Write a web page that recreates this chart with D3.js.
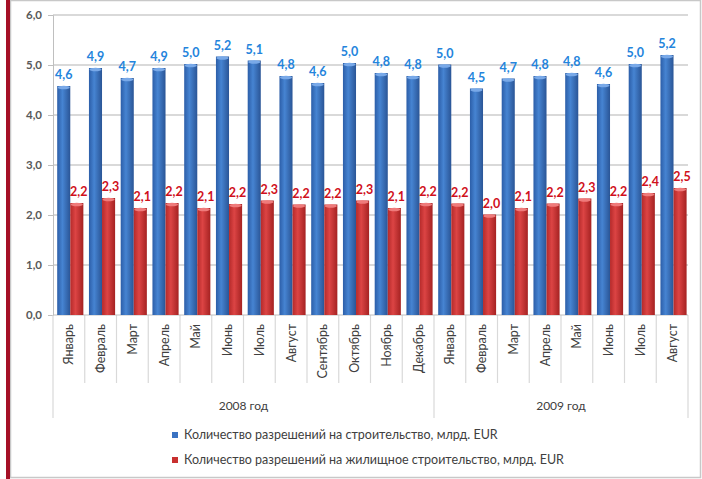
<!DOCTYPE html>
<html>
<head>
<meta charset="utf-8">
<script src="https://cdn.jsdelivr.net/npm/d3@7"></script>
<style>
  body { margin: 0; background: #fff; }
  text { font-family: Lato, "Open Sans", sans-serif; }
</style>
</head>
<body>
<div id="the_chart"></div>
<script>
var months = ["Январь", "Февраль", "Март", "Апрель", "Май", "Июнь", "Июль", "Август",
              "Сентябрь", "Октябрь", "Ноябрь", "Декабрь",
              "Январь", "Февраль", "Март", "Апрель", "Май", "Июнь", "Июль", "Август"];
var years = [{label: "2008 год", start: 0, end: 12}, {label: "2009 год", start: 12, end: 20}];
var permitsTotal = [4.58, 4.94, 4.74, 4.94, 5.02, 5.17, 5.09, 4.78, 4.64, 5.04, 4.84, 4.78,
                    5.01, 4.53, 4.73, 4.78, 4.84, 4.62, 5.02, 5.2];
var permitsHousing = [2.24, 2.34, 2.14, 2.24, 2.14, 2.22, 2.29, 2.21, 2.21, 2.29, 2.14, 2.24,
                      2.23, 2.01, 2.14, 2.23, 2.33, 2.24, 2.44, 2.54];
var seriesNames = ["Количество разрешений на строительство, млрд. EUR",
                   "Количество разрешений на жилищное строительство, млрд. EUR"];
var yTicks = [0, 1, 2, 3, 4, 5, 6];

var w = 702, h = 479;
var padL = 53, padR = 688, padT = 15, padB = 315;

var svg = d3.select("#the_chart").append("svg")
  .attr("width", w).attr("height", h);

var defs = svg.append("defs");
function cyl(id, c1, c2, c3) {
  var g = defs.append("linearGradient").attr("id", id)
    .attr("x1", "0%").attr("x2", "100%").attr("y1", "0%").attr("y2", "0%");
  g.append("stop").attr("offset", "0%").attr("stop-color", c1);
  g.append("stop").attr("offset", "40%").attr("stop-color", c2);
  g.append("stop").attr("offset", "100%").attr("stop-color", c3);
}
cyl("gBlue", "#2c5ea8", "#4684d2", "#2a5596");
cyl("gRed", "#b52a2a", "#dc4444", "#a52222");

// frame
svg.append("rect").attr("x", 10.5).attr("y", 0.5).attr("width", 690).attr("height", 477)
  .attr("fill", "none").attr("stroke", "#c8c8c8").attr("stroke-width", 1.5);
svg.append("rect").attr("x", 6).attr("y", 0).attr("width", 4).attr("height", 479)
  .attr("fill", "#a50f26");

var x = d3.scaleBand().domain(d3.range(months.length)).range([padL, padR]);
var xs = d3.scaleBand().domain([0, 1]).range([4.2, x.bandwidth() - 1.4]);
var y = d3.scaleLinear().domain([0, 6]).range([padB, padT]);

// gridlines
svg.selectAll("line.grid").data(yTicks.slice(1)).enter().append("line")
  .attr("class", "grid")
  .attr("x1", padL).attr("x2", padR)
  .attr("y1", function(d) { return y(d); }).attr("y2", function(d) { return y(d); })
  .attr("stroke", "#d9d9d9").attr("stroke-width", 1.8);

var yaxis = d3.axisLeft(y).tickValues(yTicks).tickSize(5).tickPadding(6)
  .tickFormat(function(d) { return d3.format(".1f")(d).replace(".", ","); });
var ga = svg.append("g").attr("transform", "translate(" + padL + ",0)").call(yaxis);
ga.select(".domain").attr("stroke", "#bfbfbf");
ga.selectAll(".tick line").attr("stroke", "#bfbfbf");
ga.selectAll(".tick text").attr("fill", "#595959").style("font-size", "11.5px").style("font-weight", "bold");

// category separators
svg.selectAll("line.sep").data(d3.range(months.length + 1)).enter().append("line")
  .attr("class", "sep")
  .attr("x1", function(i) { return padL + i * x.step(); })
  .attr("x2", function(i) { return padL + i * x.step(); })
  .attr("y1", padB)
  .attr("y2", function(i) { return (i == 0 || i == 12 || i == 20) ? 418 : 383; })
  .attr("stroke", "#d9d9d9").attr("stroke-width", 1.2);
svg.append("line").attr("x1", padL).attr("x2", padR).attr("y1", padB).attr("y2", padB)
  .attr("stroke", "#bfbfbf");

// bars
var series = [
  {vals: permitsTotal, fill: "url(#gBlue)", cap: "#79a9e8", label: "#2484dc", k: 0},
  {vals: permitsHousing, fill: "url(#gRed)", cap: "#ef7b7b", label: "#d0101c", k: 1}
];
series.forEach(function(s) {
  var g = svg.append("g");
  var bw = xs.bandwidth();
  g.selectAll("rect").data(s.vals).enter().append("rect")
    .attr("x", function(d, i) { return x(i) + xs(s.k); })
    .attr("y", function(d) { return y(d); })
    .attr("width", bw)
    .attr("height", function(d) { return padB - y(d); })
    .attr("fill", s.fill);
  g.selectAll("ellipse").data(s.vals).enter().append("ellipse")
    .attr("cx", function(d, i) { return x(i) + xs(s.k) + bw / 2; })
    .attr("cy", function(d) { return y(d) + 1.5; })
    .attr("rx", bw / 2 - 0.5).attr("ry", 1.8)
    .attr("fill", s.cap);
  g.selectAll("text").data(s.vals).enter().append("text")
    .attr("x", function(d, i) { return x(i) + xs(s.k) + bw / 2 + s.k * 2; })
    .attr("y", function(d) { return y(d) - 7; })
    .attr("text-anchor", "middle")
    .attr("fill", s.label)
    .style("font-size", "12.5px").style("font-weight", "bold")
    .text(function(d) { return d3.format(".1f")(d).replace(".", ","); });
});

// month labels
svg.selectAll("text.month").data(months).enter().append("text")
  .attr("class", "month")
  .attr("transform", function(d, i) {
    return "translate(" + (x(i) + x.bandwidth() / 2 + 4.5) + ",324) rotate(-90)";
  })
  .attr("text-anchor", "end")
  .attr("fill", "#404040")
  .style("font-size", "12.5px")
  .text(function(d) { return d; });

// year labels
svg.selectAll("text.year").data(years).enter().append("text")
  .attr("class", "year")
  .attr("x", function(d) { return padL + (d.start + d.end) / 2 * x.step(); })
  .attr("y", 410)
  .attr("text-anchor", "middle")
  .attr("fill", "#404040")
  .style("font-size", "12px")
  .text(function(d) { return d.label; });

// legend
var legColors = ["#3a72c2", "#c8302f"];
var leg = svg.selectAll("g.leg").data(seriesNames).enter().append("g")
  .attr("class", "leg")
  .attr("transform", function(d, i) { return "translate(172," + (432 + i * 25) + ")"; });
leg.append("rect").attr("width", 6).attr("height", 6)
  .attr("fill", function(d, i) { return legColors[i]; });
leg.append("text").attr("x", 12).attr("y", 7)
  .attr("fill", "#404040").style("font-size", "12.5px")
  .text(function(d) { return d; });
</script>
</body>
</html>
